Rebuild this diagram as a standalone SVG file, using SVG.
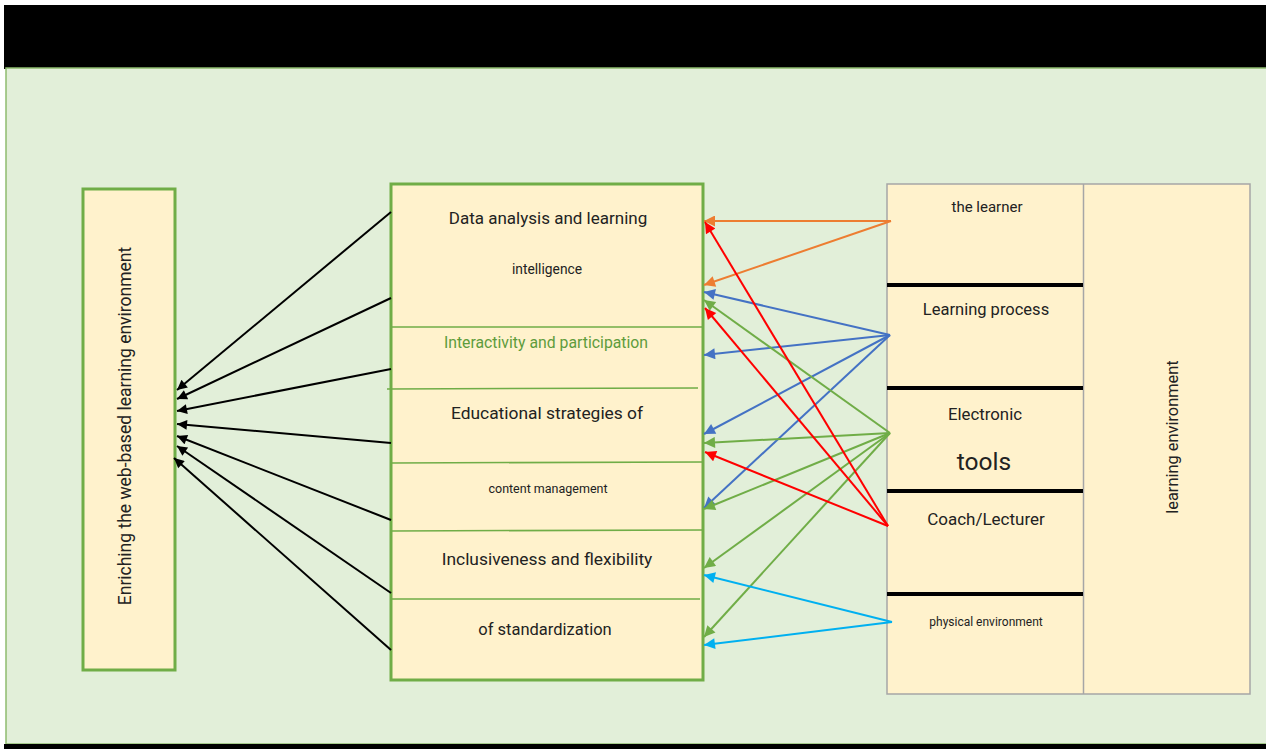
<svg xmlns="http://www.w3.org/2000/svg" width="1266" height="749" viewBox="0 0 1266 749">
<style>
.t{font-family:Roboto,"Liberation Sans",sans-serif;fill:#222;text-anchor:middle}
.box{fill:#fff2cc;stroke:#70ad47;stroke-width:3}
.div{stroke:#70ad47;stroke-width:1.5}
.rbox{fill:#fff2cc;stroke:#a6a6a6;stroke-width:1.5}
.bar{stroke:#000;stroke-width:4}
.c{fill:none;stroke-width:2}
</style>
<defs>
<marker id="mk" viewBox="0 0 10 10" refX="10" refY="5" markerWidth="12" markerHeight="10" markerUnits="userSpaceOnUse" orient="auto"><path d="M0,0L10,5L0,10z" fill="#000"/></marker>
<marker id="mo" viewBox="0 0 10 10" refX="10" refY="5" markerWidth="14" markerHeight="11" markerUnits="userSpaceOnUse" orient="auto"><path d="M0,0L10,5L0,10z" fill="#ed7d31"/></marker>
<marker id="mr" viewBox="0 0 10 10" refX="10" refY="5" markerWidth="14" markerHeight="11" markerUnits="userSpaceOnUse" orient="auto"><path d="M0,0L10,5L0,10z" fill="#ff0000"/></marker>
<marker id="mb" viewBox="0 0 10 10" refX="10" refY="5" markerWidth="14" markerHeight="11" markerUnits="userSpaceOnUse" orient="auto"><path d="M0,0L10,5L0,10z" fill="#4472c4"/></marker>
<marker id="mg" viewBox="0 0 10 10" refX="10" refY="5" markerWidth="14" markerHeight="11" markerUnits="userSpaceOnUse" orient="auto"><path d="M0,0L10,5L0,10z" fill="#70ad47"/></marker>
<marker id="mc" viewBox="0 0 10 10" refX="10" refY="5" markerWidth="14" markerHeight="11" markerUnits="userSpaceOnUse" orient="auto"><path d="M0,0L10,5L0,10z" fill="#00b0f0"/></marker>
</defs>
<rect x="0" y="0" width="1266" height="749" fill="#fff"/>
<rect x="4" y="5" width="1262" height="64" fill="#000"/>
<rect x="6" y="68" width="1262" height="676" fill="#e2efd9" stroke="#8fbc6f" stroke-width="1.5"/>
<rect x="4" y="744" width="1262" height="5" fill="#000"/>

<g id="left">
<rect class="box" x="83" y="189" width="92" height="481"/>
<text class="t" font-size="17.5" transform="translate(131,426) rotate(-90)">Enriching the web-based learning environment</text>
</g>

<g id="middle">
<rect class="box" x="391" y="184" width="312" height="496"/>
<line class="div" x1="391" y1="327" x2="703" y2="327"/>
<line class="div" x1="387" y1="389" x2="698" y2="388"/>
<line class="div" x1="391" y1="463" x2="703" y2="462"/>
<line class="div" x1="391" y1="531" x2="703" y2="530"/>
<line class="div" x1="391" y1="599" x2="700" y2="599"/>
<text class="t" x="548" y="224" font-size="17">Data analysis and learning</text>
<text class="t" x="547" y="274" font-size="13.8">intelligence</text>
<text class="t" x="546" y="348" font-size="15.8" style="fill:#5e9c3c">Interactivity and participation</text>
<text class="t" x="547" y="419" font-size="17.4">Educational strategies of</text>
<text class="t" x="548" y="493" font-size="12.5">content management</text>
<text class="t" x="547" y="565" font-size="17.4">Inclusiveness and flexibility</text>
<text class="t" x="545" y="635" font-size="16.5">of standardization</text>
</g>

<g id="right">
<rect class="rbox" x="887" y="184" width="363" height="510"/>
<line stroke="#a6a6a6" stroke-width="1.5" x1="1083.5" y1="184" x2="1083.5" y2="694"/>
<line class="bar" x1="887" y1="285" x2="1083" y2="285"/>
<line class="bar" x1="887" y1="388" x2="1083" y2="388"/>
<line class="bar" x1="887" y1="491" x2="1083" y2="491"/>
<line class="bar" x1="887" y1="594" x2="1083" y2="594"/>
<text class="t" x="987" y="212" font-size="15">the learner</text>
<text class="t" x="986" y="315" font-size="16.5">Learning process</text>
<text class="t" x="985" y="420" font-size="16.8">Electronic</text>
<text class="t" x="984" y="470" font-size="24.5">tools</text>
<text class="t" x="986" y="525" font-size="17">Coach/Lecturer</text>
<text class="t" x="986" y="626" font-size="12">physical environment</text>
<text class="t" x="1178" y="437" font-size="16.4" transform="rotate(-90 1178 437)">learning environment</text>
</g>

<g id="connectors">
<g stroke="#000" marker-end="url(#mk)" class="c">
<line x1="391" y1="212" x2="177" y2="390"/>
<line x1="391" y1="298" x2="177" y2="399"/>
<line x1="391" y1="369" x2="177" y2="411"/>
<line x1="391" y1="443" x2="177" y2="424"/>
<line x1="391" y1="520" x2="177" y2="436"/>
<line x1="391" y1="593" x2="177" y2="446"/>
<line x1="391" y1="650" x2="174" y2="458"/>
</g>
<g stroke="#ed7d31" marker-end="url(#mo)" class="c">
<line x1="891" y1="221" x2="704" y2="221"/>
<line x1="891" y1="221" x2="704" y2="285"/>
</g>
<g stroke="#4472c4" marker-end="url(#mb)" class="c">
<line x1="890" y1="335" x2="704" y2="292"/>
<line x1="890" y1="335" x2="704" y2="355"/>
<line x1="890" y1="335" x2="704" y2="434"/>
<line x1="890" y1="335" x2="704" y2="508"/>
</g>
<g stroke="#70ad47" marker-end="url(#mg)" class="c">
<line x1="890" y1="433" x2="704" y2="300"/>
<line x1="890" y1="433" x2="704" y2="443"/>
<line x1="890" y1="433" x2="704" y2="509"/>
<line x1="890" y1="433" x2="704" y2="568"/>
<line x1="890" y1="433" x2="704" y2="637"/>
</g>
<g stroke="#ff0000" marker-end="url(#mr)" class="c">
<line x1="888" y1="526" x2="705" y2="222"/>
<line x1="888" y1="526" x2="705" y2="308"/>
<line x1="888" y1="526" x2="705" y2="452"/>
</g>
<g stroke="#00b0f0" marker-end="url(#mc)" class="c">
<line x1="892" y1="622" x2="704" y2="575"/>
<line x1="892" y1="622" x2="704" y2="645"/>
</g>
</g>
</svg>
